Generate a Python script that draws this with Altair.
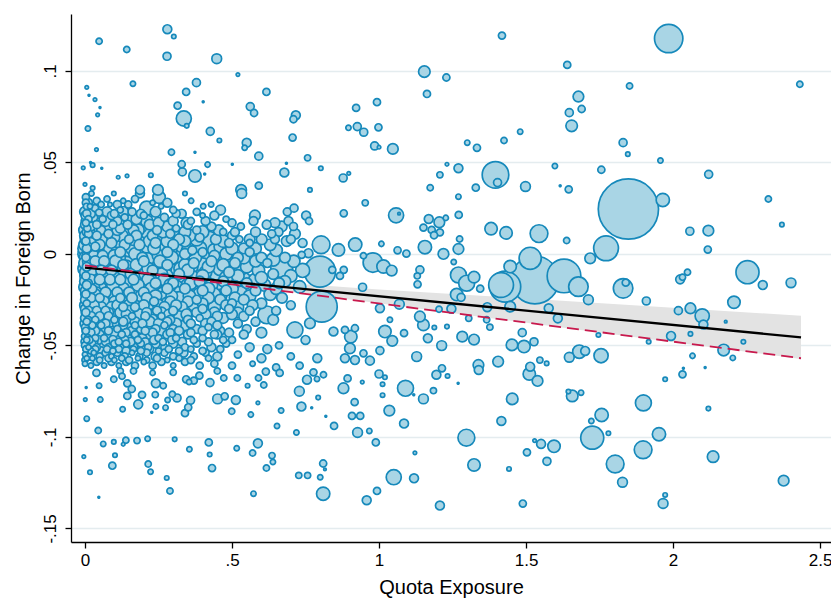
import altair as alt
import pandas as pd

# ---------------- data: (quota exposure, change in foreign born, weight) ----------------
dense_top = [
    (0.003,0.031,8),(0.022,0.033,6),(0.098,0.033,5),(0.187,0.033,10),(0.252,0.031,14),(0.34,0.033,5),
    (0.361,0.029,6),(0.533,0.033,11),(0.075,0.030,7),(0.13,0.029,6),
    (0.005,0.026,7),(0.017,0.026,6),(0.034,0.025,8),(0.048,0.0226,8),(0.147,0.027,8),(0.16,0.023,9),
    (0.21,0.025,16),(0.259,0.026,6),(0.402,0.026,6),(0.429,0.027,6),(0.461,0.024,11),(0.12,0.024,7),
    (0.085,0.027,5),(0.30,0.024,8),(0.23,0.028,6),
    (0.0,0.021,9),(0.012,0.019,8),(0.028,0.020,10),(0.06,0.019,8),(0.09,0.021,9),(0.11,0.018,10),
    (0.135,0.020,8),(0.175,0.019,12),(0.20,0.021,8),(0.27,0.020,9),(0.329,0.022,10),(0.36,0.018,8),
    (0.578,0.021,12),(0.573,0.018,10),(0.688,0.023,9),(0.711,0.025,9),(0.752,0.021,10),(0.762,0.018,8),
    (0.40,0.021,6),(0.48,0.019,7),
    (0.0,0.016,10),(0.008,0.014,8),(0.02,0.015,10),(0.04,0.016,9),(0.055,0.013,10),(0.075,0.015,12),
    (0.095,0.016,9),(0.12,0.014,11),(0.145,0.016,10),(0.165,0.013,12),(0.19,0.015,14),(0.22,0.016,12),
    (0.245,0.013,10),(0.28,0.015,12),(0.31,0.014,8),(0.35,0.016,10),(0.38,0.013,9),(0.43,0.015,10),
    (0.47,0.012,8),(0.618,0.016,10),(0.646,0.017,11),(0.669,0.015,12),(0.692,0.018,10),(0.709,0.015,9),
    (0.658,0.012,10),(0.635,0.011,9),(0.714,0.011,12),
    (0.0,0.010,12),(0.012,0.011,9),(0.025,0.009,12),(0.04,0.010,10),(0.06,0.008,14),(0.08,0.011,10),
    (0.10,0.009,12),(0.125,0.010,14),(0.15,0.008,10),(0.175,0.010,12),(0.20,0.008,16),(0.23,0.010,12),
    (0.26,0.009,14),(0.29,0.011,10),(0.32,0.008,12),(0.355,0.010,14),(0.39,0.009,10),(0.445,0.008,12),
    (0.50,0.010,10),(0.525,0.008,8),(0.601,0.008,12),(0.646,0.008,10),(0.686,0.007,12),
    (0.0,0.005,14),(0.01,0.004,10),(0.02,0.006,12),(0.035,0.004,10),(0.05,0.005,12),(0.07,0.003,14),
    (0.09,0.006,12),(0.11,0.004,16),(0.135,0.005,12),(0.16,0.003,14),(0.185,0.005,12),(0.21,0.004,14),
    (0.24,0.006,12),(0.27,0.003,16),(0.30,0.005,12),(0.33,0.004,14),(0.365,0.002,10),(0.417,0.0062,26),
    (0.46,0.004,14),(0.49,0.006,10),(0.54,0.003,12),(0.56,0.006,8),(0.803,0.005,20),(0.74,0.006,10),
]

dense_mid = [
    (0.0,0.0,16),(0.008,-0.001,12),(0.018,0.001,14),(0.03,-0.001,12),(0.045,0.001,14),(0.06,-0.001,12),
    (0.08,0.001,16),(0.10,-0.001,14),(0.12,0.001,12),(0.145,-0.001,16),(0.17,0.0,14),(0.195,-0.002,12),
    (0.22,0.001,16),(0.25,-0.001,14),(0.28,0.001,12),(0.31,-0.001,16),(0.34,0.0,12),(0.375,-0.002,14),
    (0.40,0.001,10),(0.44,-0.001,12),(0.48,0.0,14),(0.52,-0.002,12),(0.56,0.001,10),(0.60,-0.002,12),
    (0.737,-0.0005,8),(0.76,0.0004,10),(0.68,-0.002,12),
    (0.0,-0.005,14),(0.01,-0.004,12),(0.02,-0.006,14),(0.035,-0.004,12),(0.05,-0.006,14),(0.065,-0.004,12),
    (0.085,-0.006,16),(0.105,-0.004,14),(0.13,-0.006,12),(0.15,-0.004,16),(0.175,-0.006,14),(0.20,-0.004,12),
    (0.225,-0.006,18),(0.255,-0.004,14),(0.28,-0.006,12),(0.31,-0.004,16),(0.34,-0.006,14),(0.37,-0.005,12),
    (0.40,-0.006,16),(0.43,-0.004,12),(0.47,-0.006,14),(0.51,-0.005,12),(0.55,-0.007,14),(0.669,-0.0069,25),
    (0.62,-0.005,10),
    (0.0,-0.010,12),(0.012,-0.011,14),(0.025,-0.009,12),(0.04,-0.011,14),(0.055,-0.009,12),(0.07,-0.011,14),
    (0.09,-0.009,12),(0.11,-0.011,16),(0.13,-0.009,14),(0.155,-0.011,12),(0.18,-0.009,16),(0.205,-0.011,14),
    (0.23,-0.009,12),(0.26,-0.011,14),(0.29,-0.009,16),(0.32,-0.011,12),(0.35,-0.009,14),(0.38,-0.011,18),
    (0.41,-0.010,14),(0.45,-0.012,16),(0.49,-0.010,12),(0.52,-0.012,14),(0.578,-0.014,14),(0.799,-0.0097,35),
    (0.64,-0.011,12),(0.70,-0.012,14),
    (0.0,-0.015,12),(0.01,-0.016,10),(0.02,-0.014,12),(0.035,-0.016,14),(0.05,-0.014,12),(0.065,-0.016,14),
    (0.085,-0.014,12),(0.10,-0.016,16),(0.12,-0.014,12),(0.14,-0.016,14),(0.165,-0.014,12),(0.19,-0.016,16),
    (0.215,-0.014,14),(0.24,-0.016,12),(0.27,-0.014,14),(0.30,-0.016,12),(0.33,-0.014,16),(0.36,-0.016,14),
    (0.39,-0.015,12),(0.43,-0.017,14),(0.47,-0.015,12),(0.51,-0.018,14),(0.55,-0.016,12),(0.61,-0.017,14),
    (0.66,-0.016,12),(0.73,-0.018,14),
    (0.0,-0.020,10),(0.012,-0.021,12),(0.025,-0.019,10),(0.04,-0.021,12),(0.055,-0.019,14),(0.07,-0.021,12),
    (0.09,-0.019,14),(0.11,-0.021,12),(0.13,-0.019,14),(0.15,-0.021,12),(0.175,-0.019,14),(0.20,-0.021,12),
    (0.225,-0.019,14),(0.25,-0.021,16),(0.28,-0.019,12),(0.31,-0.021,14),(0.34,-0.019,12),(0.37,-0.021,16),
    (0.40,-0.020,12),(0.44,-0.022,14),(0.48,-0.020,12),(0.53,-0.021,14),(0.58,-0.020,12),(0.63,-0.022,14),
]

dense_low = [
    (0.0,-0.025,10),(0.01,-0.026,12),(0.022,-0.024,10),(0.035,-0.026,12),(0.05,-0.024,10),(0.065,-0.026,12),
    (0.08,-0.024,14),(0.10,-0.026,12),(0.12,-0.024,10),(0.14,-0.026,14),(0.16,-0.024,12),(0.185,-0.026,14),
    (0.21,-0.024,12),(0.235,-0.026,10),(0.26,-0.024,14),(0.29,-0.026,12),(0.32,-0.024,14),(0.35,-0.026,12),
    (0.38,-0.025,10),(0.42,-0.027,14),(0.46,-0.025,12),(0.50,-0.027,10),(0.54,-0.025,12),(0.805,-0.0288,35),
    (0.60,-0.027,12),(0.70,-0.028,10),
    (0.0,-0.030,10),(0.012,-0.031,10),(0.025,-0.029,12),(0.04,-0.031,10),(0.055,-0.029,12),(0.07,-0.031,10),
    (0.09,-0.029,12),(0.11,-0.031,14),(0.13,-0.029,10),(0.15,-0.031,12),(0.17,-0.029,10),(0.195,-0.031,12),
    (0.22,-0.029,14),(0.245,-0.031,10),(0.27,-0.029,12),(0.30,-0.031,10),(0.33,-0.029,12),(0.36,-0.031,14),
    (0.40,-0.030,10),(0.44,-0.032,12),(0.49,-0.030,10),(0.52,-0.032,12),(0.56,-0.031,10),(0.618,-0.0333,20),
    (0.65,-0.031,10),
    (0.0,-0.035,10),(0.01,-0.036,8),(0.022,-0.034,10),(0.035,-0.036,8),(0.05,-0.034,10),(0.065,-0.036,12),
    (0.08,-0.034,10),(0.10,-0.036,8),(0.12,-0.034,12),(0.14,-0.036,10),(0.16,-0.034,8),(0.18,-0.036,12),
    (0.205,-0.034,10),(0.23,-0.036,12),(0.26,-0.034,8),(0.29,-0.036,10),(0.32,-0.034,12),(0.35,-0.036,10),
    (0.39,-0.035,8),(0.43,-0.037,10),(0.47,-0.035,12),(0.64,-0.036,12),(0.765,-0.0379,12),(0.58,-0.037,10),
    (0.0,-0.040,8),(0.012,-0.041,10),(0.025,-0.039,8),(0.04,-0.041,10),(0.055,-0.039,8),(0.07,-0.041,10),
    (0.09,-0.039,12),(0.11,-0.041,8),(0.13,-0.039,10),(0.15,-0.041,12),(0.17,-0.039,8),(0.19,-0.041,10),
    (0.215,-0.039,12),(0.24,-0.041,10),(0.27,-0.039,8),(0.30,-0.041,10),(0.34,-0.039,12),(0.38,-0.041,10),
    (0.42,-0.040,8),(0.46,-0.042,10),(0.714,-0.0415,18),(0.55,-0.041,10),(0.60,-0.043,12),
    (0.0,-0.045,8),(0.01,-0.046,8),(0.022,-0.044,10),(0.035,-0.046,8),(0.05,-0.044,10),(0.065,-0.046,8),
    (0.085,-0.044,10),(0.105,-0.046,12),(0.125,-0.044,8),(0.145,-0.046,10),(0.17,-0.044,8),(0.195,-0.046,10),
    (0.22,-0.044,12),(0.25,-0.046,8),(0.28,-0.044,10),(0.31,-0.046,8),(0.35,-0.044,10),(0.40,-0.046,8),
    (0.45,-0.044,10),(0.50,-0.047,8),(0.54,-0.044,10),(0.75,-0.047,10),
    (0.0,-0.050,8),(0.012,-0.051,6),(0.025,-0.049,8),(0.04,-0.051,8),(0.06,-0.049,10),(0.08,-0.051,8),
    (0.10,-0.049,8),(0.12,-0.051,10),(0.14,-0.049,8),(0.165,-0.051,10),(0.19,-0.049,8),(0.215,-0.051,8),
    (0.24,-0.049,10),(0.27,-0.051,8),(0.30,-0.049,10),(0.34,-0.051,8),(0.38,-0.049,8),(0.43,-0.051,10),
    (0.48,-0.049,8),(0.56,-0.051,10),(0.62,-0.052,10),(0.66,-0.050,8),
    (0.0,-0.055,6),(0.015,-0.056,8),(0.03,-0.054,6),(0.05,-0.056,8),(0.07,-0.054,8),(0.09,-0.056,6),
    (0.11,-0.054,8),(0.135,-0.056,8),(0.16,-0.054,6),(0.185,-0.056,8),(0.21,-0.054,8),(0.24,-0.056,10),
    (0.27,-0.054,8),(0.30,-0.056,8),(0.335,-0.054,10),(0.37,-0.056,8),(0.41,-0.054,8),(0.45,-0.056,10),
    (0.52,-0.055,8),(0.60,-0.057,10),(0.70,-0.056,8),(0.79,-0.057,10),
    (0.0,-0.060,6),(0.02,-0.061,6),(0.04,-0.059,8),(0.065,-0.061,6),(0.09,-0.059,8),(0.115,-0.061,6),
    (0.14,-0.059,8),(0.17,-0.061,8),(0.20,-0.059,6),(0.23,-0.061,8),(0.26,-0.059,8),(0.30,-0.061,6),
    (0.34,-0.059,8),(0.39,-0.061,8),(0.44,-0.060,8),(0.50,-0.061,8),(0.57,-0.060,6),(0.65,-0.062,8),
    (0.73,-0.061,8),
    (0.039,-0.065,8),(0.12,-0.064,7),(0.165,-0.064,7),(0.30,-0.0647,7),(0.615,-0.0643,8),(0.662,-0.065,8),
    (0.777,-0.0647,8),(0.811,-0.066,7),(0.45,-0.064,7),(0.23,-0.065,6),
]

dense_fill = [
    (0.01,0.028,10),(0.04,0.029,8),(0.11,0.027,9),(0.17,0.030,8),(0.28,0.028,10),(0.055,0.027,7),
    (0.0,0.023,12),(0.02,0.022,10),(0.075,0.023,11),(0.10,0.022,9),(0.13,0.023,12),(0.19,0.022,10),
    (0.24,0.023,12),(0.31,0.022,9),(0.38,0.023,8),(0.44,0.021,10),
    (0.005,0.018,12),(0.035,0.017,13),(0.07,0.018,12),(0.10,0.017,14),(0.15,0.018,13),(0.21,0.018,14),
    (0.25,0.017,12),(0.30,0.018,11),(0.345,0.017,12),(0.41,0.018,10),(0.50,0.017,9),(0.53,0.015,8),
    (0.0,0.013,14),(0.015,0.012,12),(0.045,0.013,13),(0.085,0.012,15),(0.11,0.013,12),(0.135,0.012,16),
    (0.18,0.013,14),(0.21,0.012,15),(0.265,0.012,13),(0.30,0.013,14),(0.34,0.012,13),(0.40,0.012,14),
    (0.455,0.013,12),(0.51,0.012,10),(0.58,0.012,11),
    (0.005,0.008,14),(0.03,0.007,16),(0.055,0.0075,14),(0.09,0.008,16),(0.115,0.007,15),(0.14,0.007,17),
    (0.165,0.008,14),(0.195,0.007,16),(0.22,0.007,14),(0.25,0.008,16),(0.28,0.007,14),(0.31,0.008,16),
    (0.34,0.007,13),(0.38,0.008,15),(0.47,0.007,14),(0.56,0.008,12),(0.63,0.005,13),(0.70,0.008,10),
    (0.0,0.003,16),(0.025,0.002,14),(0.04,0.0025,16),(0.06,0.002,15),(0.095,0.003,16),(0.125,0.002,18),
    (0.15,0.002,15),(0.175,0.003,16),(0.20,0.002,18),(0.235,0.003,14),(0.26,0.002,16),(0.29,0.002,15),
    (0.32,0.003,16),(0.35,0.002,14),(0.39,0.003,16),(0.44,0.002,15),(0.50,0.003,14),(0.58,0.003,13),
    (0.65,0.002,14),
    (0.005,-0.002,16),(0.02,-0.003,15),(0.04,-0.002,16),(0.07,-0.003,17),(0.09,-0.002,15),(0.115,-0.003,16),
    (0.135,-0.002,18),(0.16,-0.003,16),(0.185,-0.002,17),(0.21,-0.003,16),(0.24,-0.002,18),(0.27,-0.003,16),
    (0.295,-0.002,15),(0.33,-0.003,17),(0.355,-0.002,16),(0.42,-0.003,18),(0.46,-0.002,15),(0.50,-0.003,16),
    (0.54,-0.002,14),(0.58,-0.004,13),(0.64,-0.003,15),(0.71,-0.004,14),
    (0.0,-0.008,16),(0.015,-0.007,14),(0.03,-0.008,16),(0.045,-0.0075,15),(0.075,-0.008,17),(0.095,-0.007,16),
    (0.12,-0.008,18),(0.14,-0.007,15),(0.165,-0.008,17),(0.19,-0.007,16),(0.215,-0.008,14),(0.24,-0.0075,17),
    (0.27,-0.008,16),(0.30,-0.007,18),(0.325,-0.008,15),(0.36,-0.007,16),(0.39,-0.0085,17),(0.42,-0.007,14),
    (0.46,-0.008,16),(0.53,-0.008,15),(0.59,-0.009,14),(0.74,-0.009,16),
    (0.005,-0.012,15),(0.02,-0.013,14),(0.045,-0.012,16),(0.06,-0.013,15),(0.08,-0.012,17),(0.10,-0.013,14),
    (0.12,-0.012,16),(0.145,-0.013,17),(0.17,-0.012,15),(0.195,-0.013,16),(0.22,-0.012,18),(0.25,-0.013,15),
    (0.275,-0.012,16),(0.305,-0.013,17),(0.335,-0.012,15),(0.365,-0.013,16),(0.40,-0.012,14),(0.44,-0.014,17),
    (0.48,-0.013,15),(0.54,-0.014,16),(0.60,-0.013,14),(0.68,-0.015,13),
    (0.0,-0.018,14),(0.015,-0.017,15),(0.03,-0.018,13),(0.045,-0.0175,15),(0.075,-0.018,16),(0.095,-0.017,14),
    (0.115,-0.018,16),(0.135,-0.017,15),(0.155,-0.018,17),(0.18,-0.017,14),(0.205,-0.018,16),(0.23,-0.017,15),
    (0.26,-0.018,17),(0.29,-0.017,14),(0.32,-0.018,16),(0.35,-0.017,15),(0.38,-0.018,17),(0.42,-0.019,14),
    (0.46,-0.018,16),(0.50,-0.019,14),(0.56,-0.019,15),(0.65,-0.019,13),
    (0.005,-0.022,13),(0.02,-0.023,14),(0.035,-0.022,12),(0.06,-0.023,14),(0.08,-0.022,15),(0.10,-0.023,13),
    (0.12,-0.022,15),(0.14,-0.023,14),(0.165,-0.022,16),(0.19,-0.023,13),(0.21,-0.022,15),(0.24,-0.023,14),
    (0.265,-0.022,16),(0.295,-0.023,13),(0.325,-0.022,15),(0.355,-0.023,14),(0.39,-0.022,15),(0.42,-0.024,13),
    (0.46,-0.023,15),(0.51,-0.024,13),(0.56,-0.023,14),(0.67,-0.024,12),
    (0.0,-0.028,12),(0.015,-0.027,13),(0.03,-0.028,12),(0.045,-0.027,14),(0.07,-0.028,13),(0.09,-0.027,15),
    (0.11,-0.028,12),(0.13,-0.027,14),(0.15,-0.028,13),(0.175,-0.027,15),(0.20,-0.028,12),(0.225,-0.027,14),
    (0.25,-0.028,13),(0.28,-0.027,14),(0.31,-0.028,12),(0.34,-0.027,15),(0.37,-0.028,13),(0.40,-0.027,12),
    (0.44,-0.029,14),(0.48,-0.028,12),(0.52,-0.029,13),(0.57,-0.028,12),
    (0.005,-0.032,12),(0.02,-0.033,11),(0.035,-0.032,12),(0.06,-0.033,13),(0.08,-0.032,11),(0.10,-0.033,13),
    (0.12,-0.032,12),(0.14,-0.033,11),(0.16,-0.032,13),(0.185,-0.033,12),(0.21,-0.032,11),(0.235,-0.033,13),
    (0.26,-0.032,12),(0.285,-0.033,11),(0.315,-0.032,13),(0.345,-0.033,12),(0.38,-0.032,11),(0.41,-0.033,12),
    (0.45,-0.034,11),(0.50,-0.033,12),(0.54,-0.034,11),
    (0.0,-0.038,11),(0.015,-0.037,10),(0.03,-0.038,11),(0.045,-0.037,12),(0.07,-0.038,10),(0.09,-0.037,12),
    (0.11,-0.038,11),(0.13,-0.037,10),(0.15,-0.038,12),(0.17,-0.037,11),(0.195,-0.038,10),(0.22,-0.037,12),
    (0.25,-0.038,11),(0.28,-0.037,10),(0.31,-0.038,12),(0.36,-0.038,10),(0.41,-0.038,11),(0.45,-0.039,10),
    (0.52,-0.038,10),
    (0.005,-0.042,10),(0.02,-0.043,9),(0.035,-0.042,10),(0.06,-0.043,11),(0.08,-0.042,9),(0.10,-0.043,10),
    (0.12,-0.042,11),(0.14,-0.043,9),(0.16,-0.042,10),(0.18,-0.043,11),(0.205,-0.042,9),(0.23,-0.043,10),
    (0.26,-0.042,11),(0.29,-0.043,9),(0.32,-0.042,10),(0.36,-0.043,9),(0.40,-0.042,10),(0.44,-0.044,9),
    (0.49,-0.043,10),
    (0.0,-0.048,9),(0.015,-0.047,8),(0.03,-0.048,9),(0.045,-0.047,10),(0.07,-0.048,9),(0.095,-0.047,10),
    (0.115,-0.048,8),(0.135,-0.047,9),(0.155,-0.048,10),(0.18,-0.047,8),(0.205,-0.048,9),(0.235,-0.047,10),
    (0.265,-0.048,8),(0.295,-0.047,9),(0.33,-0.048,10),(0.37,-0.047,8),(0.42,-0.048,9),(0.47,-0.047,8),
    (0.005,-0.052,8),(0.02,-0.053,7),(0.035,-0.052,8),(0.055,-0.053,9),(0.075,-0.052,8),(0.095,-0.053,7),
    (0.115,-0.052,8),(0.14,-0.053,9),(0.165,-0.052,7),(0.19,-0.053,8),(0.22,-0.052,9),(0.25,-0.053,7),
    (0.285,-0.052,8),(0.32,-0.053,8),(0.36,-0.052,7),(0.40,-0.053,8),(0.46,-0.052,8),
    (0.0,-0.058,7),(0.025,-0.057,6),(0.05,-0.058,7),(0.08,-0.057,8),(0.10,-0.058,6),(0.125,-0.057,7),
    (0.15,-0.058,8),(0.18,-0.057,6),(0.21,-0.058,7),(0.245,-0.057,8),(0.28,-0.058,6),(0.32,-0.057,7),
    (0.36,-0.058,8),(0.42,-0.057,7),
]

zero_column = [
    (0.003,0.028,8),(0.006,0.022,9),(0.003,0.017,8),(0.006,0.012,10),(0.003,0.007,9),(0.006,0.003,10),
    (0.003,-0.002,9),(0.006,-0.007,10),(0.003,-0.012,9),(0.006,-0.017,10),(0.003,-0.022,9),(0.006,-0.027,8),
    (0.003,-0.032,9),(0.006,-0.037,8),(0.003,-0.042,8),(0.006,-0.047,7),(0.003,-0.052,7),(0.006,-0.057,6),
]

upper_left = [
    (0.28,0.1228,10),(0.302,0.1188,5),(0.048,0.1162,7),(0.142,0.1117,7),(0.279,0.108,9),(0.448,0.1067,11),
    (0.52,0.098,4),(0.006,0.091,4),(0.0136,0.0867,2),(0.034,0.0843,4),(0.051,0.080,2),(0.043,0.076,4),
    (0.163,0.093,6),(0.379,0.0936,9),(0.344,0.0885,8),(0.617,0.0885,8),(0.402,0.0832,2),(0.315,0.081,8),
    (0.336,0.074,17),(0.346,0.070,5),(0.562,0.0805,9),(0.575,0.077,8),(0.717,0.0758,10),(0.709,0.0736,8),
    (0.010,0.0685,6),(0.426,0.067,9),(0.457,0.062,5),(0.550,0.0607,10),(0.543,0.058,6),(0.706,0.0636,8),
    (0.039,0.057,4),(0.294,0.0556,7),(0.374,0.0556,2),(0.591,0.0534,9),(0.757,0.0525,7),(-0.006,0.047,4),
    (0.026,0.0485,5),(0.019,0.050,2),(0.057,0.0468,2),(0.329,0.049,8),(0.331,0.0448,9),(0.374,0.0426,14),
    (0.417,0.0488,6),(0.407,0.0437,2),(0.501,0.049,2),(0.685,0.0495,2),(0.678,0.0445,10),(0.802,0.0468,5),
    (0.113,0.0419,4),(0.143,0.0426,4),(0.224,0.043,5),(0.0,0.038,4),(0.026,0.036,5),(0.591,0.0373,8),
    (0.765,0.035,5),(0.187,0.035,10),(0.248,0.035,12),(0.531,0.035,12),
]

upper_right = [
    (1.418,0.1193,8),(1.640,0.1033,8),(1.154,0.0996,13),(1.229,0.0964,8),(1.163,0.0874,8),(1.678,0.086,12),
    (1.689,0.0792,8),(1.647,0.0772,9),(1.655,0.070,13),(0.922,0.0798,8),(0.993,0.0829,8),(0.896,0.0689,6),
    (0.926,0.0696,9),(0.948,0.0665,9),(0.998,0.0692,8),(0.985,0.059,9),(1.0,0.0583,4),(1.047,0.0574,12),
    (1.300,0.0608,6),(1.333,0.058,8),(1.425,0.062,7),(1.480,0.0668,6),(0.878,0.0415,9),(0.897,0.044,4),
    (1.231,0.049,4),(1.270,0.0468,10),(1.207,0.0432,7),(1.396,0.0432,30),(1.403,0.039,9),(1.598,0.048,6),
    (1.498,0.0368,11),(1.174,0.0362,7),(1.329,0.0362,8),(1.645,0.0353,8),(1.616,0.0373,2),
    (1.985,0.1177,32),(1.852,0.0918,7),(2.431,0.0927,7),(1.830,0.0608,9),(1.846,0.0545,5),(1.957,0.051,6),
    (1.756,0.046,8),(2.121,0.0435,9),
]

middle_right = [
    (1.848,0.0245,68),(1.965,0.0295,15),(1.772,0.0031,28),(1.718,-0.0024,12),(2.324,0.030,7),(2.370,0.016,5),
    (2.057,0.0124,9),(2.120,0.0127,12),(2.118,0.0024,8),(2.253,-0.010,26),(2.305,-0.017,10),(2.401,-0.0158,11),
    (1.830,-0.0188,22),(1.839,-0.0157,8),(1.712,-0.025,11),(2.024,-0.0139,10),(2.032,-0.0127,7),(2.049,-0.010,7),
    (1.909,-0.0257,9),(2.207,-0.0264,14),(2.018,-0.031,9),(2.059,-0.0297,12),(2.099,-0.0339,16),(2.103,-0.0386,10),
    (2.179,-0.037,3),(2.059,-0.0437,5),(1.746,-0.0443,5),(1.993,-0.0448,10),(1.917,-0.048,5),(2.239,-0.048,5),
    (2.172,-0.0525,13),(2.203,-0.0568,6),(2.066,-0.0557,6),(1.755,-0.0556,16),(1.701,-0.053,10),(2.109,-0.062,2),
    (2.035,-0.0625,2),
]

middle_center = [
    (0.880,0.0222,8),(0.953,0.0279,7),(1.058,0.0211,17),(1.068,0.022,3),(1.270,0.0313,6),(1.271,0.0213,8),
    (1.169,0.0191,10),(1.205,0.0173,12),(1.227,0.0197,6),(1.151,0.0144,8),(1.179,0.0131,8),(1.207,0.0118,8),
    (1.187,0.0102,8),(1.381,0.0138,14),(1.432,0.0115,14),(1.544,0.0111,20),(1.638,0.0073,7),(0.919,0.0051,15),
    (1.008,0.0055,6),(1.063,0.002,8),(1.093,0.0002,8),(1.156,0.0037,15),(1.219,0.0,12),(1.270,0.0027,12),
    (1.274,0.0082,7),(1.254,-0.0044,6),(0.862,0.0022,14),(0.979,-0.0047,22),(1.015,-0.0069,15),(1.043,-0.0091,12),
    (0.947,-0.001,7),(0.880,-0.0087,8),(0.841,-0.0087,8),(0.867,-0.012,8),(1.139,-0.0087,9),(1.130,-0.012,7),
    (1.131,-0.0166,8),(1.270,-0.0115,18),(1.298,-0.016,18),(1.323,-0.0127,13),(1.344,-0.019,8),(1.264,-0.0222,14),
    (1.279,-0.0237,9),(1.429,-0.0179,35),(1.53,-0.0142,54),(1.629,-0.012,38),(1.678,-0.0179,22),(1.514,-0.0024,25),
    (1.446,-0.0069,14),(1.415,-0.017,28),(1.446,-0.0288,12),(1.577,-0.0297,10),(1.608,-0.0352,10),(1.368,-0.0291,10),
    (1.003,-0.0297,10),(1.069,-0.0275,11),(0.944,-0.0182,9),(1.139,-0.0342,12),(1.151,-0.0388,13),(1.188,-0.0402,5),
    (1.231,-0.0397,5),(1.204,-0.0302,7),(1.246,-0.030,10),(1.305,-0.0352,7),(1.366,-0.036,7),(1.377,-0.040,7),
    (1.283,-0.0452,12),(1.323,-0.0468,12),(1.166,-0.0461,10),(1.213,-0.0501,11),(1.020,-0.0424,14),(1.045,-0.0475,12),
    (1.037,-0.036,6),(1.085,-0.0433,8),(0.904,-0.0452,14),(0.884,-0.0415,8),(0.918,-0.0406,8),(0.845,-0.0424,10),
    (0.901,-0.0516,12),(0.884,-0.057,10),(0.918,-0.058,10),(0.969,-0.0583,10),(0.947,-0.0543,8),(1.003,-0.0528,9),
    (1.128,-0.0561,11),(1.214,-0.0625,8),(1.338,-0.0607,12),(1.405,-0.0588,12),(1.452,-0.0497,13),(1.493,-0.0506,14),
    (1.527,-0.048,9),(1.487,-0.043,9),(1.547,-0.058,7),(1.570,-0.0598,5),(1.514,-0.0616,10),(1.647,-0.0565,11),
    (1.681,-0.0534,15),
]

lower_left = [
    (0.810,-0.131,15),(0.006,-0.090,6),(0.045,-0.0965,7),(-0.004,-0.1108,4),(0.017,-0.1193,5),(0.047,-0.133,2),
    (0.062,-0.1038,6),(0.098,-0.1027,5),(0.130,-0.104,4),(0.139,-0.1018,7),(0.177,-0.102,7),(0.213,-0.101,6),
    (0.102,-0.110,5),(0.093,-0.1157,8),(0.215,-0.1148,7),(0.223,-0.119,6),(0.278,-0.1224,5),(0.289,-0.1295,7),
    (0.305,-0.1013,5),(0.355,-0.1067,6),(0.421,-0.103,8),(0.424,-0.1096,5),(0.432,-0.117,8),(0.516,-0.1062,6),
    (0.588,-0.1035,10),(0.570,-0.1088,7),(0.636,-0.1102,7),(0.639,-0.1137,6),(0.617,-0.117,7),(0.573,-0.131,6),
    (0.719,-0.0976,6),(0.653,-0.094,6),(0.727,-0.121,7),(0.757,-0.121,7),(0.800,-0.122,6),(0.810,-0.1145,8),
    (0.816,-0.1177,3),(0.004,-0.073,2),(0.001,-0.0796,4),(0.048,-0.072,6),(0.052,-0.0796,6),(0.098,-0.0685,7),
    (0.126,-0.0668,7),(0.144,-0.0707,8),(0.159,-0.0738,8),(0.144,-0.0776,8),(0.128,-0.0849,6),(0.181,-0.0822,10),
    (0.194,-0.077,8),(0.241,-0.0707,10),(0.266,-0.072,7),(0.239,-0.0769,7),(0.241,-0.0833,6),(0.274,-0.084,6),
    (0.227,-0.0865,2),(0.281,-0.0798,6),(0.297,-0.0767,7),(0.313,-0.0787,9),(0.340,-0.087,8),(0.351,-0.0838,8),
    (0.359,-0.080,9),(0.344,-0.0685,8),(0.370,-0.0692,8),(0.389,-0.0665,8),(0.354,-0.070,6),(0.425,-0.0703,9),
    (0.451,-0.0792,11),(0.475,-0.0778,8),(0.513,-0.0798,10),(0.472,-0.0678,7),(0.518,-0.0678,7),(0.499,-0.086,7),
    (0.553,-0.072,5),(0.590,-0.0678,7),(0.608,-0.0716,7),(0.588,-0.0814,4),(0.564,-0.0878,6),(0.667,-0.0856,6),
    (0.729,-0.075,11),(0.736,-0.0834,10),(0.755,-0.0687,10),(0.789,-0.0683,6),(0.793,-0.0785,5),(0.771,-0.084,2),
    (0.819,-0.0887,2),
]

lower_right = [
    (0.879,-0.0734,12),(0.893,-0.068,8),(0.943,-0.070,4),(1.0,-0.0656,9),(1.020,-0.0674,5),(1.012,-0.0712,5),
    (1.012,-0.0772,5),(1.090,-0.0734,18),(1.118,-0.0769,2),(1.151,-0.0792,11),(1.185,-0.0747,7),(1.195,-0.066,10),
    (1.233,-0.0667,5),(1.269,-0.0707,2),(1.339,-0.0634,10),(1.511,-0.0656,14),(1.539,-0.0694,12),(1.453,-0.0792,13),
    (1.657,-0.0776,13),(1.644,-0.0752,5),(1.687,-0.0758,6),(0.917,-0.081,8),(1.035,-0.0856,12),(0.908,-0.0885,8),
    (0.936,-0.0885,8),(0.847,-0.094,8),(1.085,-0.0927,10),(0.927,-0.0976,11),(0.967,-0.0967,6),(0.989,-0.103,8),
    (1.416,-0.0913,10),(1.297,-0.1004,19),(1.323,-0.1153,14),(1.122,-0.1087,4),(1.050,-0.122,17),(1.119,-0.1226,10),
    (0.993,-0.1295,8),(0.958,-0.1346,10),(1.207,-0.1375,10),(1.489,-0.1364,8),(1.442,-0.1175,5),(1.503,-0.1084,8),
    (1.529,-0.102,4),(1.551,-0.1038,10),(1.595,-0.1051,14),(1.571,-0.1133,9),
    (1.973,-0.0685,5),(2.032,-0.0658,8),(2.120,-0.0845,5),(1.899,-0.0814,18),(1.757,-0.088,15),(1.722,-0.0913,6),
    (1.780,-0.098,5),(1.725,-0.1004,26),(1.952,-0.0985,15),(1.898,-0.107,20),(1.803,-0.1148,20),(2.136,-0.1108,13),
    (1.828,-0.1248,11),(1.973,-0.1317,5),(1.966,-0.1364,11),(2.376,-0.1239,12),
]

# fitted lines (start and end of the regression lines) and confidence band
fit_x = [0.0, 2.435]
fit_y = [-0.0075, -0.0456]
alt_fit_y = [-0.0062, -0.0570]
band_x = [0.0, 0.2, 0.35, 0.6, 1.0, 1.5, 2.0, 2.435]
band_hi = [-0.0053, -0.0090, -0.0115, -0.0149, -0.0194, -0.0244, -0.0294, -0.0338]
band_lo = [-0.0097, -0.0122, -0.0145, -0.0189, -0.0270, -0.0376, -0.0482, -0.0574]

# ---------------- tables ----------------
groups = [dense_top, dense_mid, dense_low, dense_fill, zero_column, upper_left, upper_right,
          middle_right, middle_center, lower_left, lower_right]
pts = pd.DataFrame([p for g in groups for p in g], columns=["x", "y", "w"])
fit_df = pd.DataFrame({"x": fit_x, "y": fit_y, "y2": alt_fit_y})
band_df = pd.DataFrame({"x": band_x, "lo": band_lo, "hi": band_hi})

FONT = "Liberation Sans"
xscale = alt.Scale(domain=[-0.0476, 2.537], nice=False, zero=False)
yscale = alt.Scale(domain=[-0.1574, 0.1311], nice=False, zero=False)
lab = "datum.value == 0 ? '0' : replace(toString(datum.value), '0.', '.')"

xaxis = alt.Axis(values=[0, 0.5, 1, 1.5, 2, 2.5], title="Quota Exposure", grid=False,
                 labelExpr=lab, labelFlush=False, labelOverlap=False)
yaxis = alt.Axis(values=[-0.15, -0.1, -0.05, 0, 0.05, 0.1], title="Change in Foreign Born", grid=True,
                 labelExpr=lab, labelAngle=270, labelAlign="center", labelBaseline="bottom",
                 labelFlush=False, labelOverlap=False)

band = alt.Chart(band_df).mark_area(color="#e3e3e3", opacity=1).encode(
    x=alt.X("x:Q", scale=xscale, axis=xaxis),
    y=alt.Y("lo:Q", scale=yscale, axis=yaxis),
    y2="hi:Q",
)

points = alt.Chart(pts).mark_point(
    shape="circle", filled=True, fill="#a9d5e5", stroke="#1689bb", strokeWidth=1.7, opacity=1
).encode(
    x=alt.X("x:Q", scale=xscale),
    y=alt.Y("y:Q", scale=yscale),
    size=alt.Size("w:Q", scale=alt.Scale(type="pow", exponent=2, domain=[0, 70], range=[0, 3848]), legend=None),
    order=alt.Order("w:Q", sort="descending"),
)

fit = alt.Chart(fit_df).mark_line(color="black", strokeWidth=2.4).encode(
    x=alt.X("x:Q", scale=xscale), y=alt.Y("y:Q", scale=yscale))
alt_fit = alt.Chart(fit_df).mark_line(color="#c8194d", strokeWidth=1.8, strokeDash=[12, 6]).encode(
    x=alt.X("x:Q", scale=xscale), y=alt.Y("y2:Q", scale=yscale))

chart = alt.layer(band, points, fit, alt_fit).properties(
    width=760, height=528,
    padding={"left": 63, "top": 6, "right": 0, "bottom": 57},
    autosize=alt.AutoSizeParams(type="none"),
    background="white",
).configure_view(stroke=None).configure_axis(
    labelFont=FONT, titleFont=FONT, labelFontSize=17, titleFontSize=20,
    labelColor="black", titleColor="black", titleFontWeight="normal",
    domainColor="black", domainWidth=1.3, tickColor="black", tickWidth=1.3, tickSize=6,
    gridColor="#e4ecef", gridWidth=1.6,
).configure_axisX(labelPadding=4, titlePadding=9).configure_axisY(labelPadding=6, titlePadding=8)

chart.save("out.html", embed_options={"renderer": "svg", "actions": False})
